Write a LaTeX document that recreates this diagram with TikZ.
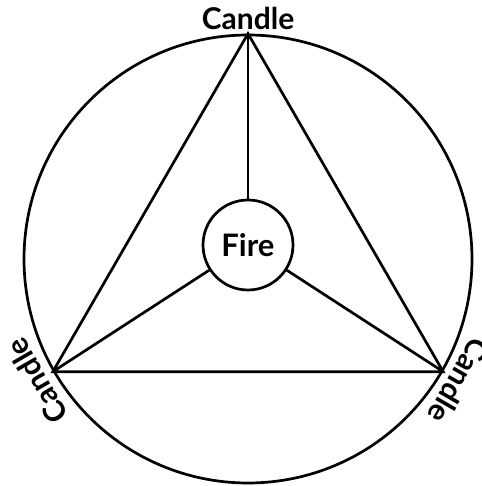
\documentclass[tikz,border=0pt]{standalone}
\usepackage{fontspec}
\setmainfont{Lato}
\usepackage{tikz}
\usetikzlibrary{positioning,calc}

\begin{document}
\begin{tikzpicture}[x=0.5pt,y=0.5pt,line width=1.35pt,
 ring/.style={draw,circle,inner sep=0pt,minimum size=224pt},
 core/.style={draw,circle,fill=white,inner sep=0pt,minimum size=45pt,font=\bfseries\fontsize{15.5}{17}\selectfont},
 lbl/.style={inner sep=1pt,font=\bfseries\fontsize{15}{17}\selectfont}]
\useasboundingbox (-248,-227) rectangle (233,259);
\node[ring] (ring) at (0,0) {};
\coordinate (ct) at (ring.90);
\coordinate (cl) at (ring.210);
\coordinate (cr) at (ring.330);
\node[core] (fire) at (0,14) {Fire};
\node[lbl] (lt) at (90:241) {Candle};
\node[lbl,rotate=120] (ll) at (210:244) {Candle};
\node[lbl,rotate=-120] (lr) at (330:244) {Candle};
\draw (ct)--(cl)--(cr)--cycle;
\draw (ct)--(fire);
\draw (cl)--(fire);
\draw (cr)--(fire);
\end{tikzpicture}
\end{document}
